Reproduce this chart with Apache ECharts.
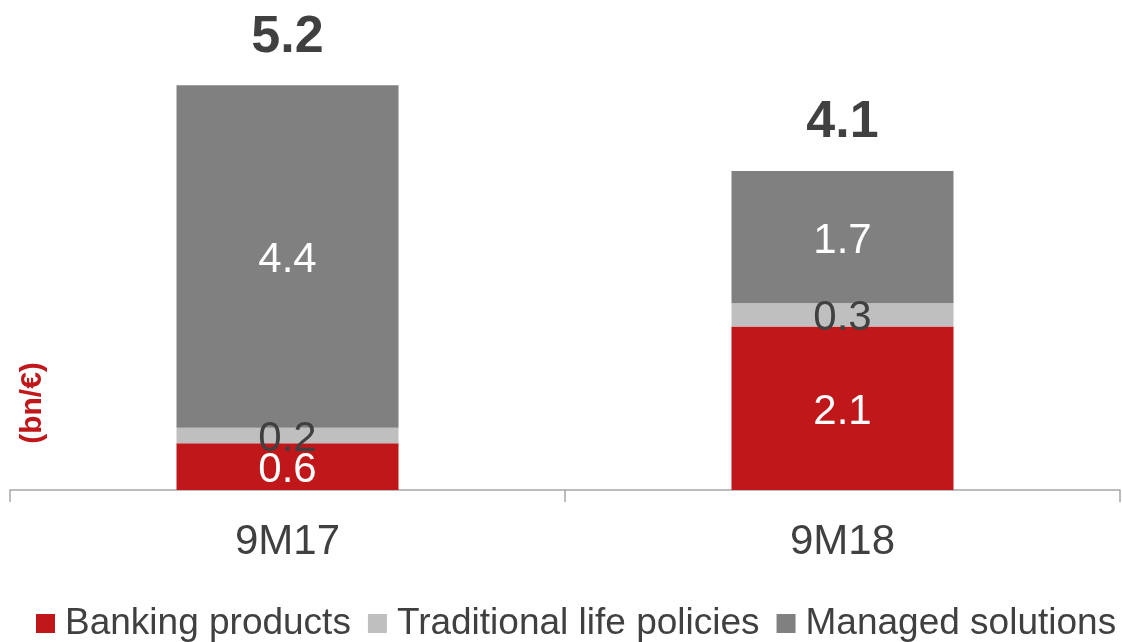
<!DOCTYPE html>
<html>
<head>
<meta charset="utf-8">
<script src="https://cdn.jsdelivr.net/npm/echarts@6/dist/echarts.min.js"></script>
<style>
  html, body { margin: 0; padding: 0; background: #fff; }
  #chart { width: 1122px; height: 642px; }
</style>
</head>
<body>
<div id="chart"></div>
<script>
// Datos
const categories = ['9M17', '9M18'];
const banking = [0.6, 2.1];
const traditional = [0.2, 0.3];
const managed = [4.4, 1.7];
const totals = [5.2, 4.1];
const seriesNames = ['Banking products', 'Traditional life policies', 'Managed solutions'];

const FONT = 'Arial, "Liberation Sans", sans-serif';
const TEXT = '#404040';

const chart = echarts.init(document.getElementById('chart'), null, { renderer: 'canvas' });

function segment(name, data, color, labelColor) {
  return {
    name: name,
    type: 'bar',
    stack: 'total',
    data: data,
    barWidth: '40%',
    itemStyle: { color: color },
    label: {
      show: true,
      position: 'inside',
      offset: [0, 4],
      color: labelColor,
      fontSize: 42,
      fontFamily: FONT,
      formatter: p => p.value.toFixed(1)
    }
  };
}

chart.setOption({
  animation: false,
  grid: { left: 10, right: 2, top: 23, bottom: 152 },
  legend: {
    data: seriesNames,
    left: 36,
    top: 605,
    width: 1086,
    padding: 0,
    itemWidth: 19,
    itemHeight: 19,
    itemGap: 17,
    icon: 'rect',
    textStyle: { fontSize: 37, color: TEXT, fontFamily: FONT, padding: [0, 0, 0, 5] }
  },
  xAxis: {
    type: 'category',
    data: categories,
    axisLine: { lineStyle: { color: '#A6A6A6', width: 1.5 } },
    axisTick: { show: true, length: 12, lineStyle: { color: '#A6A6A6', width: 1.5 } },
    axisLabel: { fontSize: 42, color: TEXT, fontFamily: FONT, margin: 31 }
  },
  yAxis: {
    type: 'value',
    min: 0,
    max: 6,
    show: false
  },
  graphic: [{
    type: 'text',
    x: 33,
    y: 403,
    rotation: Math.PI / 2,
    style: {
      text: '(bn/€)',
      fill: '#C0181A',
      font: 'bold 30px ' + FONT,
      align: 'center',
      verticalAlign: 'middle'
    }
  }],
  series: [
    segment(seriesNames[0], banking, '#C0181A', '#ffffff'),
    segment(seriesNames[1], traditional, '#BFBFBF', TEXT),
    segment(seriesNames[2], managed, '#808080', '#ffffff'),
    {
      name: 'Total',
      type: 'bar',
      data: totals,
      barWidth: '40%',
      barGap: '-100%',
      z: 1,
      itemStyle: { color: 'rgba(0,0,0,0)' },
      silent: true,
      label: {
        show: true,
        position: 'top',
        distance: 22,
        color: TEXT,
        fontSize: 52,
        fontWeight: 'bold',
        fontFamily: FONT,
        formatter: p => p.value.toFixed(1)
      }
    }
  ]
});
window.addEventListener('resize', () => chart.resize());
</script>
</body>
</html>
